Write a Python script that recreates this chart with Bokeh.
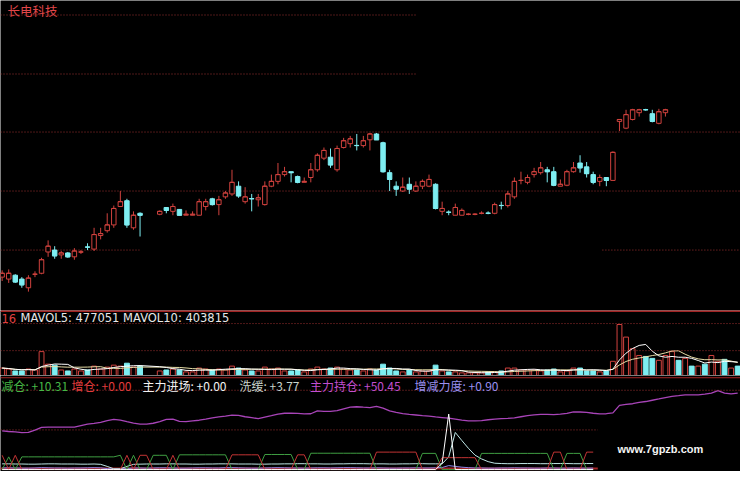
import pandas as pd
from bokeh.plotting import figure
from bokeh.layouts import gridplot
from bokeh.models import ColumnDataSource, Range1d, Span, Label
from bokeh.embed import file_html
from bokeh.resources import INLINE

# ---------------- data ----------------
stock_name = "长电科技"

opens = [5.70, 5.60, 5.80, 5.60, 5.15, 5.85, 5.90, 7.00, 7.10, 6.85,
         6.95, 6.75, 7.00, 7.26, 7.15, 7.85, 8.10, 8.40, 9.35, 9.65,
         8.25, 9.00, None, None, 8.95, 9.30, 9.10, 9.20, 8.90, 8.90,
         8.90, 9.35, 9.75, 9.45, 9.85, 10.00, 10.40, 9.60, 9.76, 9.70,
         9.45, 10.40, 10.65, 11.00, 11.15, 10.90, 10.60, 10.85, 11.25, 11.85,
         11.90, 11.25, 12.40, 12.60, 12.51, 12.50, 12.80, 13.10, 12.65, 11.10,
         10.40, 10.15, 10.50, 10.15, 10.40, 10.40, 10.50, 9.10, 9.06, 8.90,
         8.90, 8.95, 8.95, 9.00, 9.01, 9.00, 9.41, 9.40, 9.85, 10.70,
         10.60, 11.00, 11.10, 11.25, 11.15, 10.40, 10.45, 11.15, 11.60, 11.40,
         11.00, 10.65, 10.85, 10.70, 13.75, 13.40, 13.85, 14.20, 14.36, 14.15,
         13.65, 14.20]
highs = [6.05, 6.10, 5.85, 5.70, 5.80, 6.00, 6.70, 7.60, 7.30, 7.05,
         7.00, 7.20, 7.10, 7.45, 8.25, 8.25, 9.00, 9.40, 10.15, 9.75,
         9.10, 9.05, None, None, 9.15, 9.30, 9.50, 9.20, 9.15, 9.10,
         9.75, 9.75, 9.80, 9.90, 10.15, 11.25, 10.65, 10.35, 10.00, 10.00,
         10.65, 11.00, 11.60, 11.40, 11.15, 10.95, 10.85, 11.60, 12.10, 12.40,
         12.35, 12.50, 12.90, 13.00, 13.10, 13.00, 13.15, 13.15, 12.70, 11.25,
         10.65, 10.85, 10.85, 10.65, 10.75, 11.00, 10.55, 9.60, 9.15, 9.50,
         9.25, 9.00, 9.00, 9.10, 9.10, 9.55, 9.60, 10.15, 10.85, 11.15,
         11.00, 11.35, 11.65, 11.40, 11.40, 10.75, 11.25, 11.65, 12.00, 11.65,
         11.15, 11.00, 10.85, 12.20, 13.85, 14.35, 14.40, 14.40, 14.40, 14.35,
         14.40, 14.40]
lows = [5.50, 5.40, 5.40, 5.15, 4.95, 5.70, 5.85, 6.75, 6.65, 6.65,
        6.70, 6.60, 6.90, 7.10, 7.05, 7.65, 8.00, 8.25, 9.35, 8.25,
        8.15, 7.80, None, None, 8.90, 9.00, 8.90, 8.90, 8.90, 8.90,
        8.90, 9.15, 9.40, 8.90, 9.75, 9.90, 9.80, 9.50, 9.10, 9.35,
        9.40, 10.35, 10.50, 10.90, 10.60, 10.55, 10.60, 10.60, 11.15, 11.75,
        11.35, 11.15, 12.35, 12.40, 12.25, 12.40, 12.25, 12.80, 11.10, 10.15,
        9.90, 10.10, 10.00, 10.10, 10.25, 10.35, 9.20, 8.90, 8.90, 8.90,
        8.90, 8.90, 8.90, 8.95, 8.95, 8.95, 9.20, 9.30, 9.75, 10.50,
        10.50, 10.85, 11.00, 10.60, 10.40, 10.40, 10.40, 11.10, 11.10, 10.85,
        10.50, 10.40, 10.40, 10.70, 13.25, 13.35, 13.80, 14.00, 14.30, 13.70,
        13.60, 14.00]
closes = [5.90, 5.90, 5.45, 5.30, 5.65, 5.85, 6.60, 7.30, 6.80, 6.95,
          6.75, 7.05, 7.00, 7.25, 7.90, 7.95, 8.40, 9.25, 9.60, 8.40,
          8.90, 8.90, None, None, 9.10, 9.15, 9.35, 8.90, 8.95, 8.95,
          9.60, 9.60, 9.45, 9.70, 10.05, 10.60, 9.90, 9.85, 9.75, 9.80,
          10.40, 10.65, 11.00, 11.15, 11.10, 10.60, 10.65, 11.25, 12.00, 12.25,
          11.50, 12.35, 12.75, 12.85, 12.50, 12.75, 13.10, 12.80, 11.15, 10.75,
          10.25, 10.35, 10.25, 10.40, 10.65, 10.75, 9.25, 9.25, 9.05, 9.30,
          9.15, 8.95, 8.95, 9.00, 9.00, 9.45, 9.40, 10.00, 10.65, 10.70,
          10.85, 11.15, 11.35, 11.15, 10.45, 10.50, 11.15, 11.35, 11.35, 11.05,
          10.60, 10.85, 10.70, 12.15, 13.85, 14.10, 14.35, 14.35, 14.35, 13.75,
          14.25, 14.35]

volumes = [270000, 240000, 180000, 180000, 240000, 210000, 780000, 390000, 360000, 210000,
           180000, 240000, 180000, 210000, 330000, 240000, 300000, 360000, 330000, 420000,
           300000, 330000, None, None, 180000, 210000, 240000, 210000, 150000, 150000,
           270000, 240000, 210000, 240000, 210000, 330000, 270000, 210000, 180000, 180000,
           300000, 240000, 270000, 180000, 180000, 210000, 150000, 240000, 300000, 240000,
           270000, 300000, 240000, 210000, 210000, 180000, 240000, 210000, 390000, 270000,
           180000, 150000, 210000, 150000, 180000, 180000, 360000, 180000, 150000, 150000,
           120000, 120000, 120000, 120000, 150000, 150000, 180000, 270000, 270000, 210000,
           210000, 210000, 180000, 210000, 240000, 150000, 180000, 270000, 270000, 180000,
           180000, 150000, 180000, 480000, 1620000, 1230000, 870000, 660000, 630000, 570000,
           510000, 660000, 780000, 510000, 570000, 330000, 330000, 390000, 660000, 480000,
           540000, 270000, 330000]
# up(1)/down(0) for the volume bars past the last candle
vol_up_tail = [1, 0, 1, 0, 1, 0, 1, 1, 0, 1, 0]

# 主力持仓 (purple)
hold = [24.4, 24.0, 23.7, 23.3, 23.4, 24.9, 26.6, 26.8, 26.8, 26.8,
        26.7, 26.8, 27.7, 28.6, 29.1, 29.8, 30.8, 31.6, 31.2, 30.2,
        29.3, 28.7, 28.7, 29.2, 30.2, 31.6, 31.8, 30.4, 30.2, 30.7,
        31.1, 31.8, 32.6, 33.2, 33.7, 34.3, 34.1, 33.3, 32.7, 32.1,
        33.1, 34.0, 35.0, 35.5, 35.5, 35.4, 35.1, 35.2, 37.0, 36.7,
        36.7, 37.1, 38.3, 39.3, 39.6, 39.3, 39.1, 39.9, 38.7, 37.0,
        36.0, 35.3, 34.8, 34.4, 34.0, 33.7, 33.2, 32.8, 32.4, 31.8,
        31.2, 30.7, 30.7, 30.9, 31.4, 31.8, 32.1, 32.3, 32.6, 33.3,
        34.0, 34.5, 34.8, 34.8, 34.6, 34.9, 35.4, 36.3, 36.3, 36.0,
        35.5, 35.1, 35.2, 35.7, 40.5, 41.1, 41.5, 42.4, 42.9, 43.7,
        44.5, 45.4, 46.2, 46.6, 47.1, 47.1, 47.1, 47.5, 48.2, 49.8,
        48.2, 47.7, 48.2]
# 减仓 (green)
cut = [0, 8.0, 0, 8.0, 8.0, 8.0, 8.0, 8.0, 8.0, 8.0,
       8.0, 8.0, 8.0, 8.0, 8.0, 8.0, 8.0, 8.0, 9.0, 0,
       9.0, 0, 0, 9.0, 9.0, 9.0, 0, 9.3, 9.3, 9.3,
       9.3, 9.3, 9.3, 9.3, 9.3, 0, 0, 0, 0, 0,
       9.5, 9.5, 9.5, 9.5, 9.5, 0, 0, 10.3, 10.3, 10.3,
       10.3, 10.3, 10.3, 10.3, 10.3, 10.3, 10.3, 0, 0, 0,
       0, 0, 0, 0, 10.2, 10.2, 10.2, 0, 0, 0,
       0, 0, 0, 10.2, 10.2, 10.2, 10.2, 10.2, 10.2, 10.2,
       10.2, 10.2, 10.2, 10.2, 0, 0, 10.2, 10.2, 10.2, 0,
       0]
# 增仓 (red)
add = [9.0, 0, 9.0, 0, 0, 0, 0, 0, 0, 0,
       0, 0, 0, 0, 0, 0, 0, 0, 0, 9.0,
       0, 9.0, 9.0, 0, 0, 0, 9.0, 0, 0, 0,
       0, 0, 0, 0, 0, 9.3, 9.3, 9.3, 9.3, 9.3,
       0, 0, 0, 0, 0, 9.3, 9.3, 0, 0, 0,
       0, 0, 0, 0, 0, 0, 0, 11.0, 11.0, 11.0,
       11.0, 11.0, 11.0, 11.0, 0, 0, 0, 7.5, 7.5, 7.5,
       7.5, 7.5, 7.5, 0, 0, 0, 0, 0, 0, 0,
       0, 0, 0, 0, 11.0, 11.0, 0, 0, 0, 11.0,
       11.0]
# 主力进场 (white)
enter = [0, 0, 0, 0, 0, 0, 0, 0, 0, 0,
         0, 0, 0, 0, 0, 0, 0, 0, 0, 0,
         0, 0, 0, 0, 0, 0, 0, 0, 0, 0,
         0, 0, 0, 0, 0, 0, 0, 0, 0, 0,
         0, 0, 0, 0, 0, 0, 0, 0, 0, 0,
         0, 0, 0, 0, 0, 0, 0, 0, 0, 0,
         0, 0, 0, 0, 0, 0, 0, 4.0, 35.0, 0,
         0, 0, 0, 0, 0, 0, 0, 0, 0, 0,
         0, 0, 0, 0, 0, 0, 0, 0, 0, 0,
         0]
# 洗缓 (pale)
wash = [3.6, 3.6, 3.5, 3.5, 3.4, 3.4, 3.5, 3.6, 3.6, 3.5,
        3.5, 3.5, 3.4, 3.4, 3.5, 3.3, 2.0, 0.5, 0.5, 2.0,
        3.3, 3.4, 3.5, 3.5, 3.5, 3.6, 3.6, 3.5, 3.5, 3.4,
        3.4, 3.5, 3.5, 3.6, 3.6, 3.6, 3.5, 3.5, 3.5, 3.4,
        3.4, 3.5, 3.5, 3.6, 3.6, 3.7, 3.7, 3.6, 3.6, 3.5,
        3.5, 3.6, 3.6, 3.7, 3.7, 3.7, 3.6, 3.6, 3.6, 3.5,
        3.5, 3.6, 3.6, 3.7, 3.7, 3.6, 3.6, 3.6, 8.0, 23.4,
        18.3, 13.4, 9.1, 6.7, 5.0, 4.0, 3.8, 3.7, 3.7, 3.8,
        3.8, 3.8, 3.7, 3.7, 3.8, 3.8, 3.8, 3.7, 3.7, 3.8,
        3.8]
# 增减力度 (lavender)
force = [1.0, 1.1, 1.0, 0.9, 0.9, 1.0, 1.2, 1.1, 1.0, 1.0,
         0.9, 1.0, 1.0, 1.1, 1.2, 1.1, 0.6, 0.3, 0.3, 0.7,
         1.0, 1.0, 0.9, 1.0, 1.1, 1.1, 1.0, 0.9, 0.9, 1.0,
         1.1, 1.1, 1.0, 1.0, 1.2, 1.2, 1.1, 1.0, 0.9, 0.9,
         1.0, 1.1, 1.2, 1.1, 1.0, 1.0, 0.9, 1.0, 1.1, 1.1,
         1.0, 1.1, 1.2, 1.2, 1.1, 1.0, 1.0, 1.1, 1.0, 0.9,
         0.9, 1.0, 1.0, 1.1, 1.0, 1.0, 1.1, 1.3, 2.5, 2.0,
         1.5, 1.2, 1.0, 1.0, 0.9, 0.9, 1.0, 1.0, 1.1, 1.0,
         1.0, 0.9, 0.9, 1.0, 1.0, 0.9, 0.9, 1.0, 0.9, 0.9,
         0.9]

vol_header = ["16", "MAVOL5: 477051 MAVOL10: 403815"]
ind_labels = ["减仓: +10.31", "增仓: +0.00", "主力进场: +0.00", "洗缓: +3.77",
              "主力持仓: +50.45", "增减力度: +0.90"]
price_grid = [19.25, 16.2, 13.2, 10.15, 7.1]
watermark = "www.7gpzb.com"

# ---------------- styling ----------------
RED = "#d0423e"
CYAN = "#7eeef2"
GRID = "#9c3030"
BORDER = "#a22424"
W = 740
H1, H2, H3 = 310, 65, 96
XR = Range1d(-0.25, 112.43)


def panel(h, y0, y1):
    f = figure(width=W, height=h, x_range=XR, y_range=Range1d(y0, y1),
               output_backend="svg", toolbar_location=None,
               x_axis_type=None, y_axis_type=None, min_border=0,
               background_fill_color="black", border_fill_color="black",
               outline_line_color=None)
    return f


# ---------------- price panel ----------------
p1 = panel(H1, 3.975, 20.0)
gx0 = [-0.25, -0.25, -0.25, -0.25, -0.25, 91.4]
gx1 = [63.1, 63.1, 112.43, 112.43, 20.9, 112.43]
gy = [price_grid[0], price_grid[1], price_grid[2], price_grid[3], price_grid[4], price_grid[4]]
p1.segment(gx0, gy, gx1, gy, line_color=GRID, line_dash="1 2", line_width=1)

df = pd.DataFrame({"o": opens, "h": highs, "l": lows, "c": closes}, dtype=float)
df["i"] = range(len(df))
df = df.dropna().copy()
df["top"] = df[["o", "c"]].max(axis=1)
df["bot"] = df[["o", "c"]].min(axis=1)
df["xl"] = df["i"] - 0.34
df["xr"] = df["i"] + 0.34
up = df[df.c >= df.o]
dn = df[df.c < df.o]
su = ColumnDataSource(up)
sd = ColumnDataSource(dn)
p1.segment("i", "h", "i", "l", source=su, line_color=RED, line_width=1)
p1.segment("i", "h", "i", "l", source=sd, line_color=CYAN, line_width=1)
p1.vbar("i", 0.68, "top", "bot", source=su, fill_color="black", line_color=RED, line_width=1)
p1.vbar("i", 0.68, "top", "bot", source=sd, fill_color=CYAN, line_color=CYAN, line_width=1)
p1.segment("xl", "c", "xr", "c", source=su, line_color=RED, line_width=1)
p1.segment("xl", "c", "xr", "c", source=sd, line_color=CYAN, line_width=1)

p1.add_layout(Label(x=7, y=300.5, x_units="screen", y_units="screen", text=stock_name,
                    text_color="#e2474a", text_font="Noto Sans CJK SC",
                    text_font_size="12.5px", text_baseline="middle"))

# ---------------- volume panel ----------------
p2 = panel(H2, 39000, 2055000)
p2.add_layout(Span(location=2040000, dimension="width", line_color=BORDER, line_width=2))
p2.add_layout(Span(location=1650000, dimension="width", line_color=GRID, line_dash="1 2", line_width=1))
p2.add_layout(Span(location=810000, dimension="width", line_color=GRID, line_dash="1 2", line_width=1))

cand_up = (pd.Series(closes, dtype=float) >= pd.Series(opens, dtype=float)).tolist()
vdf = pd.DataFrame({"v": pd.Series(volumes, dtype=float)})
vdf["i"] = range(len(vdf))
vdf["up"] = cand_up + [bool(x) for x in vol_up_tail]
vdf["zero"] = 0.0
vdf = vdf.dropna().copy()
vdf["ma5"] = vdf["v"].rolling(5, min_periods=1).mean()
vdf["ma10"] = vdf["v"].rolling(10, min_periods=1).mean()
p2.vbar("i", 0.74, "v", "zero", source=ColumnDataSource(vdf[vdf.up]),
        fill_color="black", line_color=RED, line_width=1)
p2.vbar("i", 0.74, "v", "zero", source=ColumnDataSource(vdf[~vdf.up]),
        fill_color=CYAN, line_color=CYAN, line_width=1)
p2.line(vdf["i"], vdf["ma10"], line_color="#e6dca6", line_width=1)
p2.line(vdf["i"], vdf["ma5"], line_color="#ffffff", line_width=1)

p2.add_layout(Label(x=1, y=57.5, x_units="screen", y_units="screen", text=vol_header[0],
                    text_color="#e04040", text_font="DejaVu Sans",
                    text_font_size="11.5px", text_baseline="middle"))
p2.add_layout(Label(x=20, y=57.5, x_units="screen", y_units="screen", text=vol_header[1],
                    text_color="#e8e8e8", text_font="DejaVu Sans",
                    text_font_size="11.5px", text_baseline="middle"))

# ---------------- indicator panel ----------------
p3 = panel(H3, -1.22, 59.3)
p3.add_layout(Span(location=57.9, dimension="width", line_color=BORDER, line_width=1))
p3.add_layout(Span(location=50, dimension="width", line_color=GRID, line_dash="1 2", line_width=1))
p3.segment([-0.25], [25], [90.7], [25], line_color=GRID, line_dash="1 2", line_width=1)
p3.segment([-0.25], [0.6], [90.7], [0.6], line_color=BORDER, line_width=2)

n = len(cut)
xs = list(range(n))
p3.line(list(range(len(hold))), hold, line_color="#a844b8", line_width=1.3)
p3.line(xs, force, line_color="#8c84e8", line_width=1)
p3.line(xs, wash, line_color="#bfe6e6", line_width=1)
p3.line(xs, cut, line_color="#3f9e42", line_width=1)
p3.line(xs, add, line_color="#c23434", line_width=1)
p3.line(xs, enter, line_color="#ffffff", line_width=1)

ind_colors = ["#46b846", "#e03c3c", "#f2f2f2", "#c8d4cc", "#c24ed0", "#9a90f0"]
ind_x = [1, 71, 142, 239, 309.5, 414]
for t, c, x in zip(ind_labels, ind_colors, ind_x):
    p3.add_layout(Label(x=x, y=86.5, x_units="screen", y_units="screen", text=t,
                        text_color=c, text_font="Noto Sans CJK SC",
                        text_font_size="12px", text_baseline="middle"))

p3.add_layout(Label(x=617, y=23, x_units="screen", y_units="screen", text=watermark,
                    text_color="#f4f4f4", text_font="Liberation Sans",
                    text_font_style="bold", text_font_size="11px", text_baseline="middle"))

grid = gridplot([[p1], [p2], [p3]], toolbar_location=None)
open("out.html", "w").write(file_html(grid, INLINE))
